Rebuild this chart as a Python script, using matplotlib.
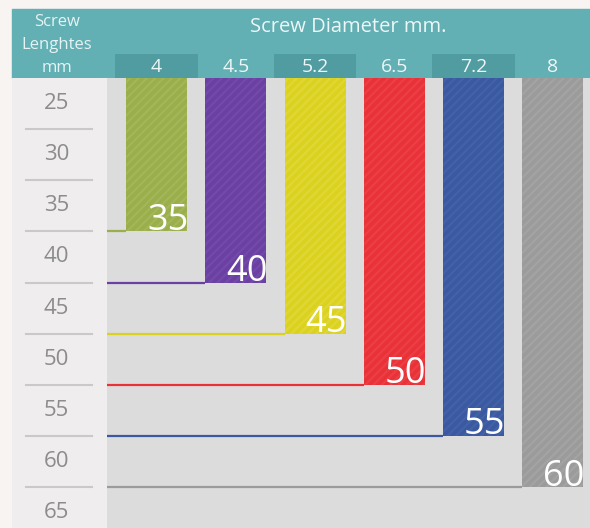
import matplotlib
matplotlib.use('Agg')
import matplotlib.pyplot as plt
from matplotlib.patches import Rectangle
import numpy as np

# data
diameters = ['4', '4.5', '5.2', '6.5', '7.2', '8']
max_lengths = [35, 40, 45, 50, 55, 60]
length_ticks = [25, 30, 35, 40, 45, 50, 55, 60, 65]
bar_colors = ['#9aae4b', '#6a40a2', '#dbd21f', '#e83238', '#3a59a1', '#9b9b9b']
stripe_colors = ['#a3b658', '#7349aa', '#e0d736', '#ec3f45', '#4262a8', '#a3a3a3']

plt.rcParams['font.family'] = ['Open Sans', 'DejaVu Sans']
plt.rcParams['hatch.linewidth'] = 1.6

W, H = 590, 528
fig = plt.figure(figsize=(W / 100, H / 100), dpi=100, facecolor='#f7f4f2')

def fx(px):
    return px / W

def fy(px):
    return 1 - px / H

# teal header band (behind the axes)
fig.patches.append(Rectangle((fx(12), fy(78)), fx(578), 69 / H,
                             transform=fig.transFigure, color='#62afb4', zorder=-1))
fig.text(fx(348), fy(27), 'Screw Diameter mm.', color='#eef7f7', fontsize=14.5,
         ha='center', va='center')
for i, t in enumerate(['Screw', 'Lenghtes', 'mm']):
    fig.text(fx(57), fy(22 + i * 23), t, color='#e6f3f3', fontsize=12,
             ha='center', va='center')

ylim = (66.5, 22.5)
xlim = (-0.625, 5.47)
w = 0.77

# left column with lengths
axl = fig.add_axes([fx(12), 0, 95 / W, 450 / H])
axl.set_ylim(ylim)
axl.set_xlim(0, 1)
axl.axis('off')
axl.add_patch(Rectangle((0, 0), 1, 1, transform=axl.transAxes, color='#efeded', zorder=-1))
for v in length_ticks:
    axl.text(0.47, v, str(v), color='#8c8c8c', fontsize=16, ha='center', va='center')
for v in length_ticks[:-1]:
    axl.plot([0.15, 0.84], [v + 2.5, v + 2.5], color='#c9c9c9', lw=1.5)

# main plot area
ax = fig.add_axes([fx(107), 0, 483 / W, 450 / H])
ax.set_facecolor('#dcdcdc')
ax.set_xlim(xlim)
ax.set_ylim(ylim)
x = np.arange(len(diameters))
for i, (v, c, sc) in enumerate(zip(max_lengths, bar_colors, stripe_colors)):
    bottom = v + 2.5
    ax.bar(i, bottom - ylim[1], bottom=ylim[1], width=w, color=c,
           edgecolor=sc, hatch='////', linewidth=0, zorder=2)
    ax.hlines(bottom, xlim[0], i - w / 2, color=c, lw=1.6, zorder=1)
    ax.text(i + w / 2 + 0.02, bottom - 0.15, str(v), color='white', fontsize=26,
            ha='right', va='baseline', zorder=3)
for s in ax.spines.values():
    s.set_visible(False)
ax.set_xticks([])
ax.set_yticks([])

# column labels row in header
axh = fig.add_axes([fx(107), fy(78), 483 / W, 24 / H])
axh.set_xlim(xlim)
axh.set_ylim(0, 1)
axh.axis('off')
axh.bar(x[::2], 1, width=1.04, color='#519ca1', zorder=1)
for i, d in enumerate(diameters):
    axh.text(i, 0.45, d, color='#eef7f7', fontsize=14, ha='center', va='center')

fig.savefig('out.png', dpi=100, facecolor=fig.get_facecolor())
